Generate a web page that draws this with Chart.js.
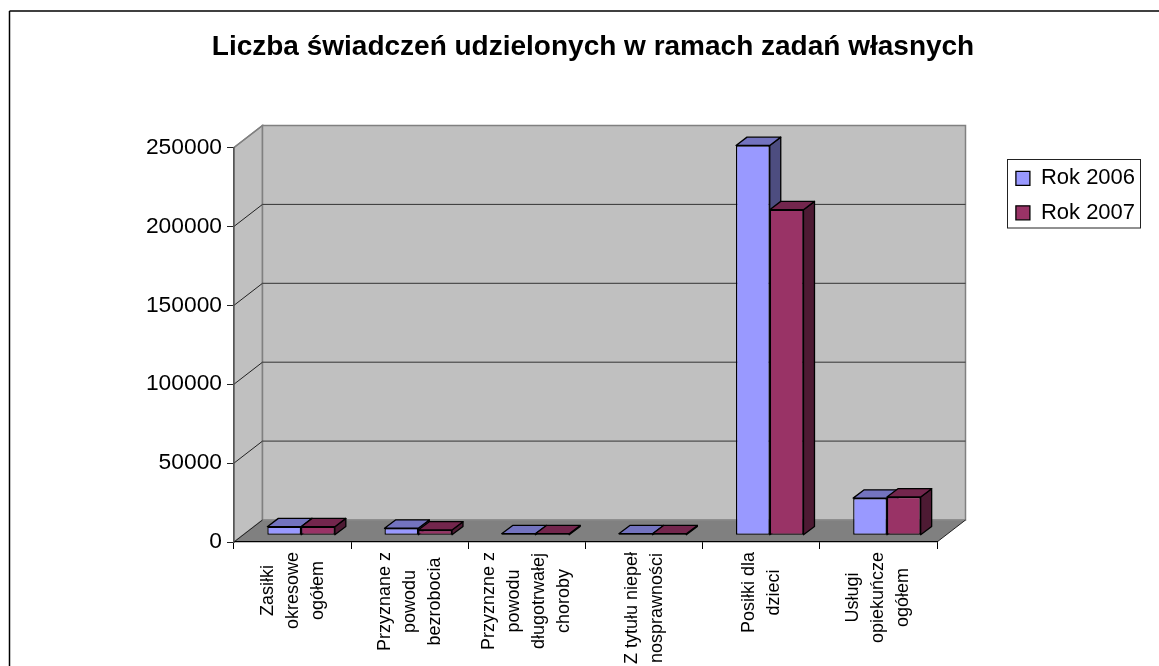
<!DOCTYPE html>
<html>
<head>
<meta charset="utf-8">
<title>Liczba świadczeń</title>
<script src="https://cdn.jsdelivr.net/npm/chart.js@4"></script>
<style>
  html, body { margin: 0; background: #fff; }
  canvas { display: block; }
</style>
</head>
<body>
<canvas id="myChart" width="1159" height="666"></canvas>
<script>
const chart_title = 'Liczba świadczeń udzielonych w ramach zadań własnych';
const categories = [
    ['Zasiłki', 'okresowe', 'ogółem'],
    ['Przyznane z', 'powodu', 'bezrobocia'],
    ['Przyznzne z', 'powodu', 'długotrwałej', 'choroby'],
    ['Z tytułu niepeł', 'nosprawności'],
    ['Posiłki dla', 'dzieci'],
    ['Usługi', 'opiekuńcze', 'ogółem']
];
const series_names = ['Rok 2006', 'Rok 2007'];
const values_2006 = [5400, 4400, 150, 100, 247000, 23500];
const values_2007 = [5400, 3300, 150, 100, 206300, 24200];
const y_max = 250000;
const y_step = 50000;

const front_colors = ['#9999FF', '#993366'];
const top_colors = ['#7373BF', '#73264D'];
const side_colors = ['#4D4D80', '#4D1A33'];

// fake 3d: how far the back wall sits from the axes, and the bar depth
const wall_dx = 28.5, wall_dy = 22;
const bar_shift_x = 8.5, bar_shift_y = 6.8;
const bar_dx = 11, bar_dy = 8.3;

function face(ctx, points, fill, stroke, width) {
    ctx.beginPath();
    points.forEach((p, i) => i ? ctx.lineTo(p[0], p[1]) : ctx.moveTo(p[0], p[1]));
    ctx.closePath();
    if (fill) { ctx.fillStyle = fill; ctx.fill(); }
    if (stroke) { ctx.strokeStyle = stroke; ctx.lineWidth = width; ctx.stroke(); }
}

function line(ctx, x1, y1, x2, y2, color, width) {
    ctx.beginPath();
    ctx.moveTo(x1, y1);
    ctx.lineTo(x2, y2);
    ctx.strokeStyle = color;
    ctx.lineWidth = width;
    ctx.stroke();
}

const walls_plugin = {
    id: 'walls',
    beforeDraw(chart) {
        const ctx = chart.ctx;
        const sx = chart.scales.x, sy = chart.scales.y;
        const left = sx.left, right = sx.right;
        const y0 = sy.getPixelForValue(0), ytop = sy.getPixelForValue(y_max);

        // outer frame of the chart, only its left and top edges are in the picture
        ctx.save();
        ctx.fillStyle = '#fff';
        ctx.fillRect(0, 0, chart.width, chart.height);
        line(ctx, 9.5, 671, 9.5, 11, '#000', 1.5);
        line(ctx, 9.5, 11, 1160, 11, '#000', 1.5);

        face(ctx, [[left, y0], [left, ytop], [left + wall_dx, ytop - wall_dy], [left + wall_dx, y0 - wall_dy]], '#C0C0C0', '#808080', 1.5);
        face(ctx, [[left + wall_dx, ytop - wall_dy], [right + wall_dx, ytop - wall_dy], [right + wall_dx, y0 - wall_dy], [left + wall_dx, y0 - wall_dy]], '#C0C0C0', '#808080', 1.5);
        face(ctx, [[left, y0], [left + wall_dx, y0 - wall_dy], [right + wall_dx, y0 - wall_dy], [right, y0]], '#808080', null);
        line(ctx, left + wall_dx, y0 - wall_dy, right + wall_dx, y0 - wall_dy, '#8c8c8c', 1.2);
        line(ctx, left, y0, left + wall_dx, y0 - wall_dy, '#222', 1);
        line(ctx, right, y0, right + wall_dx, y0 - wall_dy, '#222', 1);

        sy.ticks.forEach((t) => {
            if (t.value === 0 || t.value === y_max) return;
            const y = sy.getPixelForValue(t.value);
            line(ctx, left, y, left + wall_dx, y - wall_dy, '#222', 1);
            line(ctx, left + wall_dx, y - wall_dy, right + wall_dx, y - wall_dy, '#333', 1);
        });
        line(ctx, left, ytop, left + wall_dx, ytop - wall_dy, '#808080', 1.5);

        // legend frame
        ctx.strokeStyle = '#222';
        ctx.lineWidth = 1;
        ctx.fillStyle = '#fff';
        ctx.fillRect(1007.5, 159.5, 133, 68.5);
        ctx.strokeRect(1007.5, 159.5, 133, 68.5);
        ctx.restore();

        // chart.js has no free placing for these, so they are moved by hand
        const title = chart.titleBlock;
        const mid = 593, half = title.width / 2;
        title.left = mid - half;
        title.right = mid + half;

        const legend = chart.legend;
        legend.left = 1003.5;
        legend.right = legend.left + legend.width;
        legend.top = 155;
        legend.bottom = legend.top + legend.height;

        // rotated category labels: lines centred on each other, block starts under the axis
        const items = sx.getLabelItems(chart.chartArea);
        items.forEach((item, i) => {
            const lines = item.label;
            ctx.save();
            ctx.font = item.font.string;
            const longest = Math.max(...lines.map((s) => ctx.measureText(s).width));
            ctx.restore();
            item.textOffset = -(lines.length - 1) * item.font.lineHeight / 2;
            item.options.textAlign = 'center';
            item.options.textBaseline = 'middle';
            item.options.translation = [sx.getPixelForTick(i), 552 + longest / 2];
        });
    },
    // side and top of every bar go under the fronts that chart.js draws
    beforeDatasetsDraw(chart) {
        const ctx = chart.ctx;
        ctx.save();
        ctx.translate(bar_shift_x, -bar_shift_y);
        ctx.lineJoin = 'round';
        chart.data.datasets.forEach((ds, d) => {
            chart.getDatasetMeta(d).data.forEach((bar) => {
                const p = bar.getProps(['x', 'y', 'base', 'width'], true);
                const l = p.x - p.width / 2, r = p.x + p.width / 2;
                face(ctx, [[r, p.base], [r, p.y], [r + bar_dx, p.y - bar_dy], [r + bar_dx, p.base - bar_dy]], side_colors[d], '#000', 1.3);
                face(ctx, [[l, p.y], [r, p.y], [r + bar_dx, p.y - bar_dy], [l + bar_dx, p.y - bar_dy]], top_colors[d], '#000', 1.3);
            });
        });
    },
    afterDatasetsDraw(chart) {
        chart.ctx.restore();
    }
};

const data = {
    labels: categories,
    datasets: [
        { label: series_names[0], data: values_2006, backgroundColor: front_colors[0] },
        { label: series_names[1], data: values_2007, backgroundColor: front_colors[1] }
    ]
};

const config = {
    type: 'bar',
    data: data,
    options: {
        responsive: false,
        animation: false,
        events: [],
        layout: { padding: { left: 0, top: 0, right: 222, bottom: 0 } },
        datasets: {
            bar: {
                barPercentage: 1,
                categoryPercentage: 0.576,
                borderColor: '#000',
                borderWidth: 1.3,
                borderSkipped: false,
                minBarLength: 1.5,
                clip: false
            }
        },
        scales: {
            x: {
                afterFit(scale) { scale.height = 124; },
                grid: { drawOnChartArea: false, drawTicks: true, tickLength: 7, color: '#000', lineWidth: 1 },
                border: { color: '#000', width: 1.2 },
                ticks: {
                    autoSkip: false,
                    minRotation: 90,
                    maxRotation: 90,
                    color: '#000',
                    font: { family: '"Liberation Sans"', size: 18, lineHeight: 1.39 }
                }
            },
            y: {
                min: 0,
                max: y_max,
                afterFit(scale) { scale.width = 234; },
                grid: { drawOnChartArea: false, drawTicks: true, tickLength: 7, color: '#222', lineWidth: 1 },
                border: { color: '#555', width: 1.5 },
                ticks: {
                    stepSize: y_step,
                    padding: 5,
                    color: '#000',
                    font: { family: '"Liberation Sans"', size: 22.8 },
                    callback: (v) => String(v)
                }
            }
        },
        plugins: {
            tooltip: { enabled: false },
            title: {
                display: true,
                text: chart_title,
                color: '#000',
                font: { family: '"Liberation Sans"', size: 28, weight: 'bold', lineHeight: 1.2 },
                padding: { top: 30, bottom: 83.9 }
            },
            legend: {
                position: 'chartArea',
                align: 'start',
                labels: {
                    color: '#000',
                    boxWidth: 14,
                    boxHeight: 14,
                    padding: 12.4,
                    font: { family: '"Liberation Sans"', size: 22 }
                }
            }
        }
    },
    plugins: [walls_plugin]
};

const my_chart = new Chart(document.getElementById('myChart'), config);
</script>
</body>
</html>
